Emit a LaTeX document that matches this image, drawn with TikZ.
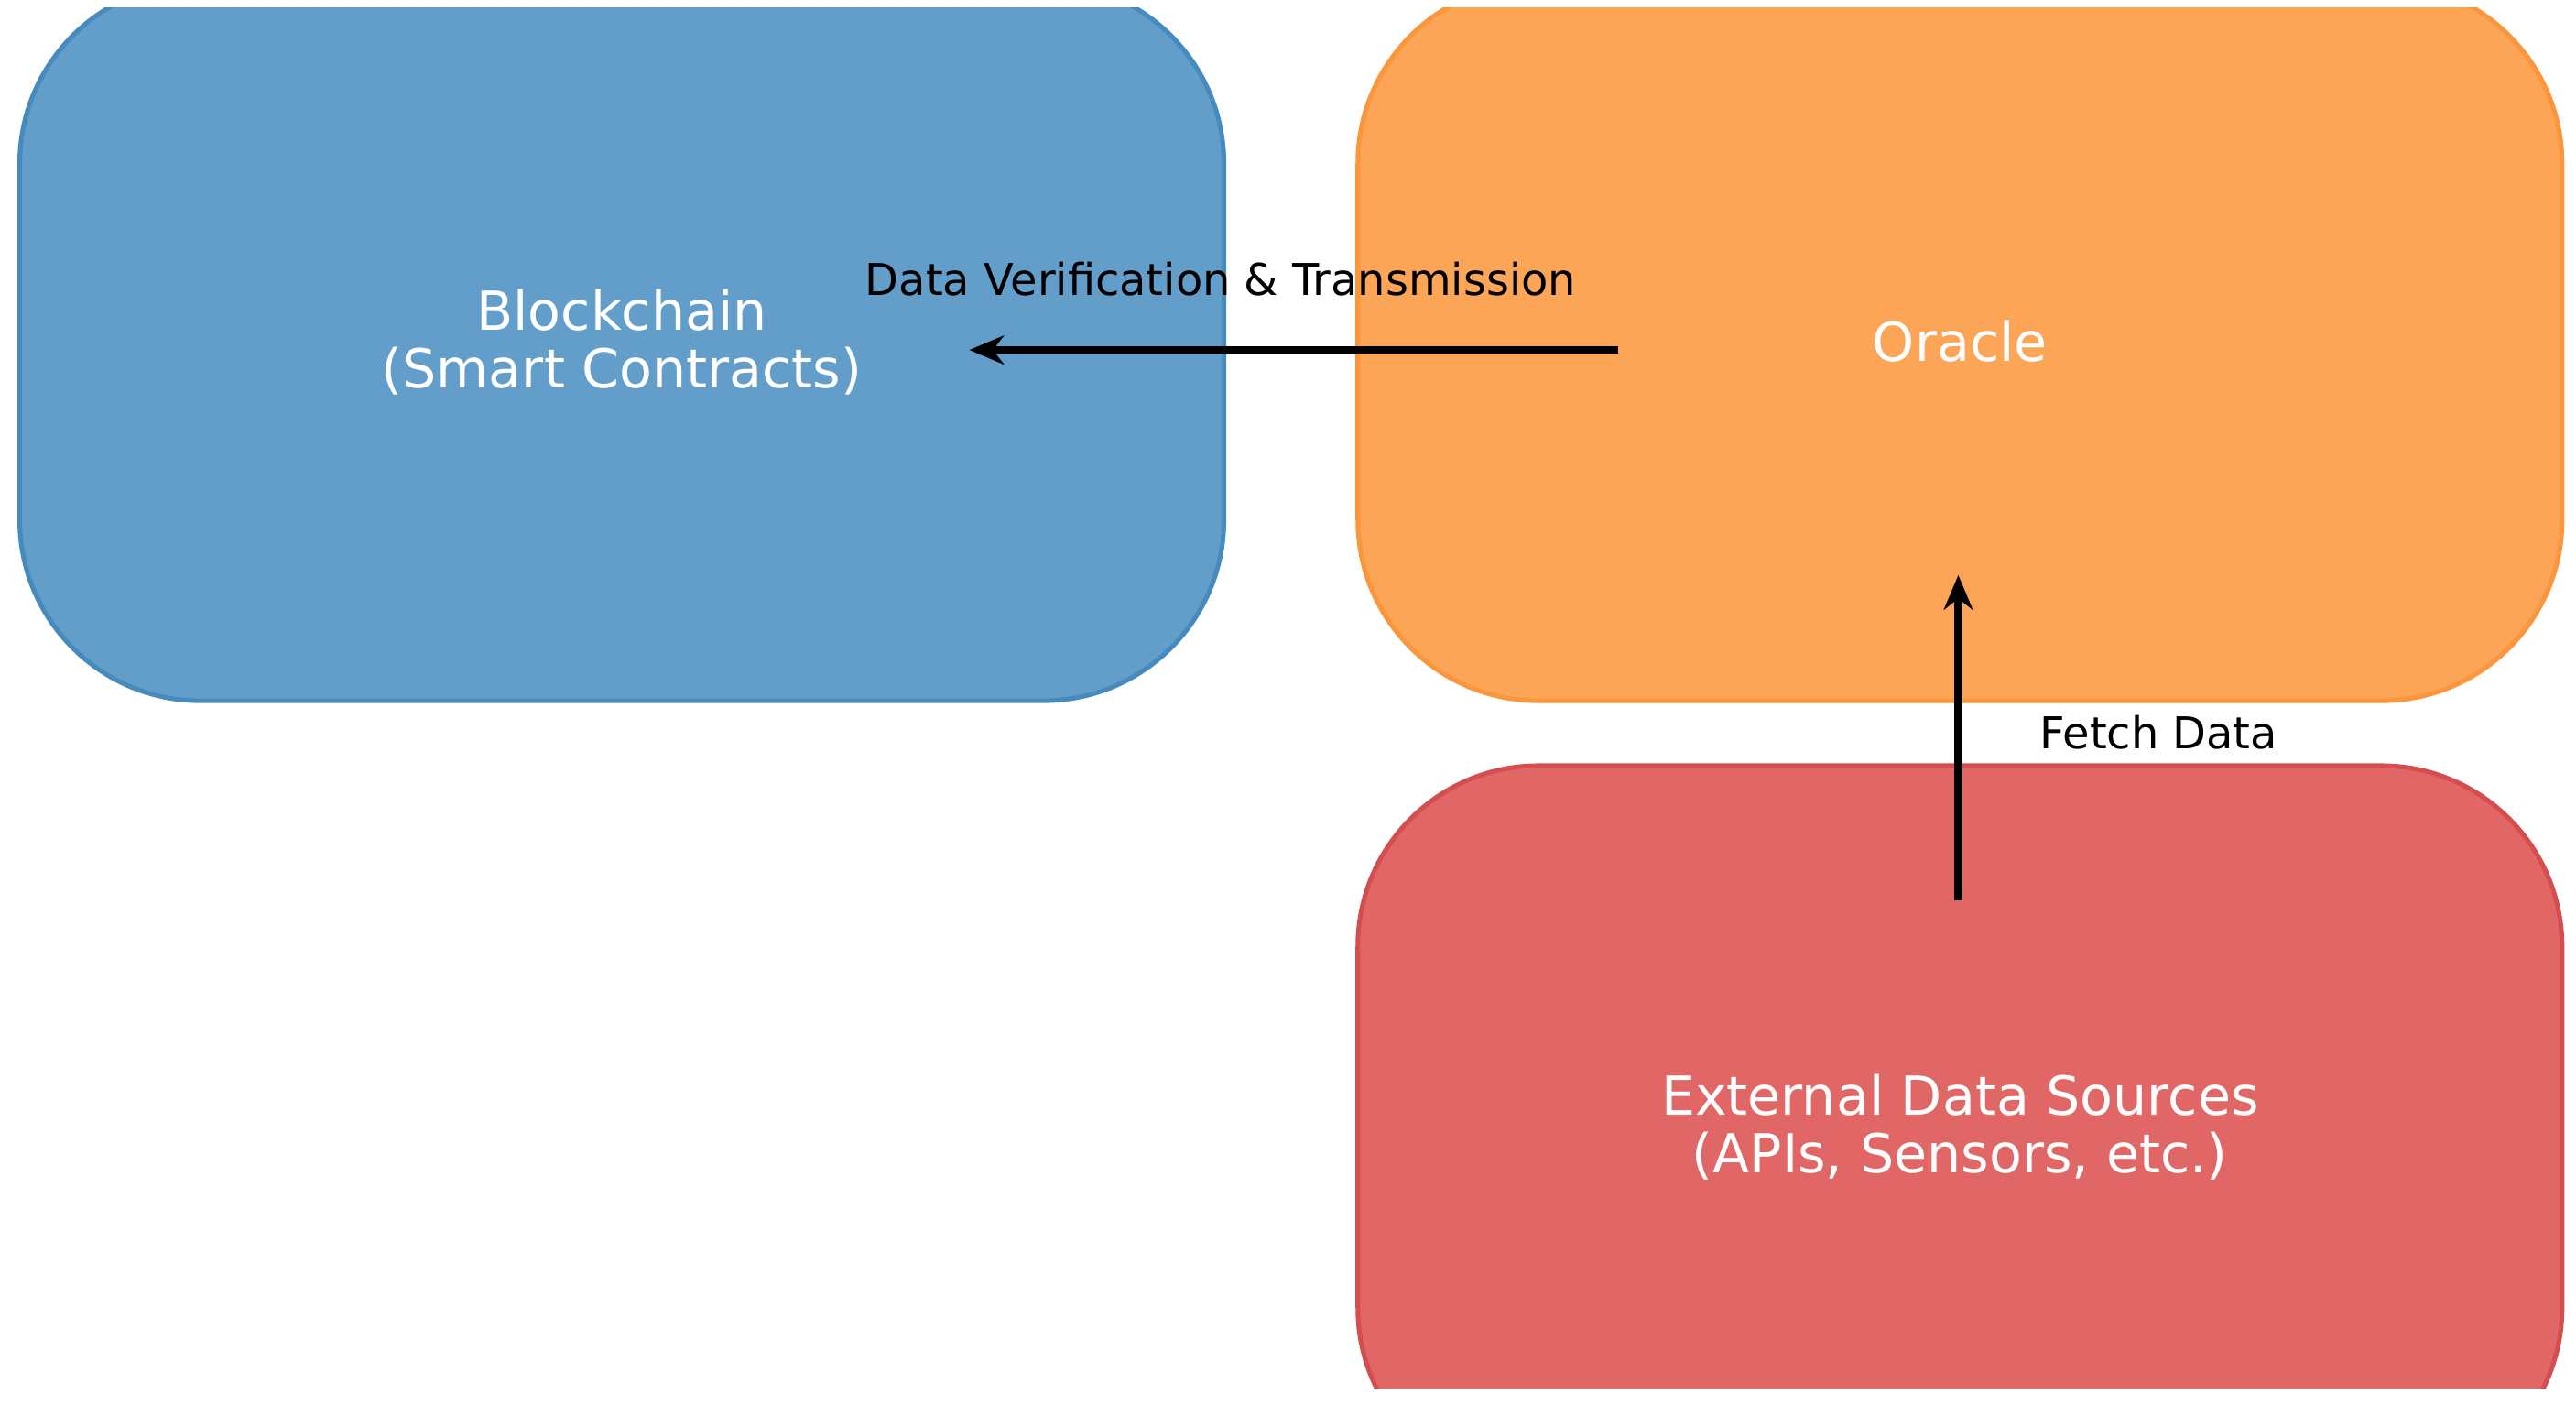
\documentclass[tikz,border=0pt]{standalone}
\usepackage{fontspec}
\setmainfont{DejaVu Sans}
\usetikzlibrary{arrows.meta,positioning}
\definecolor{chainblue}{RGB}{98,158,201}
\definecolor{chainblueline}{RGB}{70,138,190}
\definecolor{oracleorange}{RGB}{253,165,86}
\definecolor{oracleline}{RGB}{252,150,60}
\definecolor{sourcered}{RGB}{225,103,103}
\definecolor{sourceline}{RGB}{212,78,80}
\tikzset{
  box/.style={rectangle, rounded corners=1.1cm, line width=0.8pt,
    minimum width=7.33cm, minimum height=4.37cm, text=white, align=center,
    font=\fontsize{9.3}{10}\selectfont},
  flow/.style={-{Stealth[length=6pt,width=5pt]}, line width=1.3pt},
  flow label/.style={font=\fontsize{7.6}{9}\selectfont, text=black}
}
\begin{document}
\begin{tikzpicture}
\useasboundingbox (0,0) rectangle (15.68,8.55);
\clip (0,0.1) rectangle (15.68,8.5);
% boxes
\node[box, fill=chainblue, draw=chainblueline] (chain) at (3.785,6.47) {Blockchain\\(Smart Contracts)};
\node[box, fill=oracleorange, draw=oracleline] (oracle) at (11.93,6.47) {Oracle};
\node[box, fill=sourcered, draw=sourceline, minimum height=4.4cm] (source) at (11.93,1.69) {External Data Sources\\(APIs, Sensors, etc.)};
% connectors
\coordinate (vfrom) at (9.85,6.42);
\coordinate (vto) at (5.9,6.42);
\coordinate (ffrom) at (11.92,3.07);
\coordinate (fto) at (11.92,5.05);
\draw[flow] (vfrom) -- (vto);
\draw[flow] (ffrom) -- (fto);
\node[flow label] (vlabel) at (7.43,6.85) {Data Verification \& Transmission};
\node[flow label] (flabel) at (13.14,4.09) {Fetch Data};
\end{tikzpicture}
\end{document}
